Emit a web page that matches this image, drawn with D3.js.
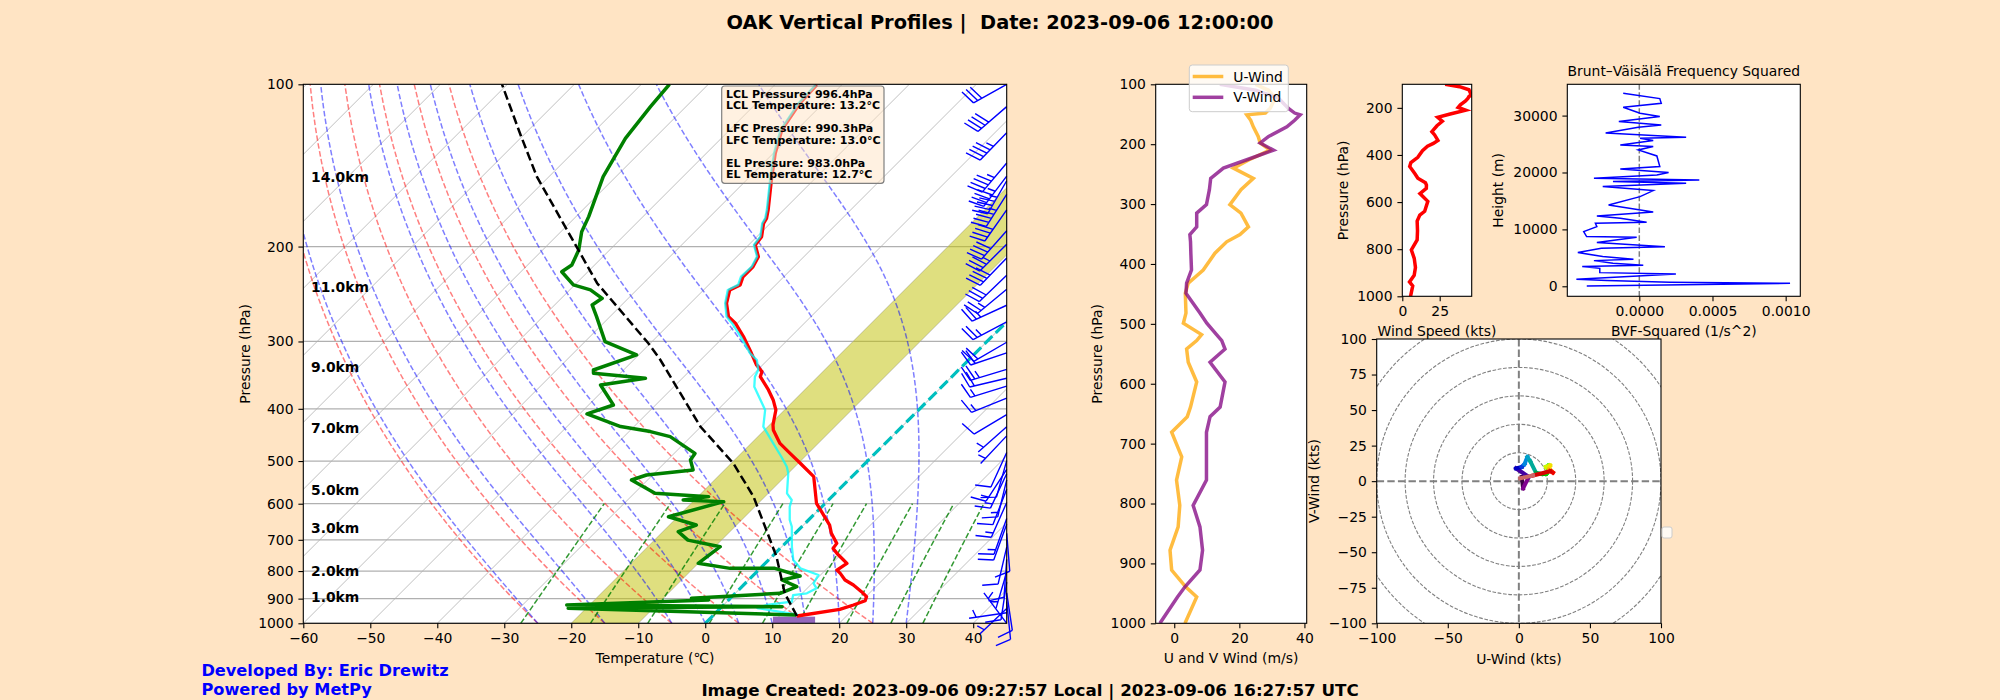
<!DOCTYPE html>
<html><head><meta charset="utf-8">
<script src="https://cdn.jsdelivr.net/npm/d3@7"></script>
<style>body{margin:0;background:#ffe4c4;} svg{display:block;font-family:'DejaVu Sans',sans-serif;}</style>
</head><body><svg id="c" width="2000" height="700"></svg>
<script>
// ================= DATA =================
const pTicks = [100,200,300,400,500,600,700,800,900,1000];
const tTicks = [-60,-50,-40,-30,-20,-10,0,10,20,30,40];

// Temperature (red)
const tempP = [969.3,942.1,924.8,908.0,892.4,873.6,849.0,831.1,807.8,796.4,774.0,763.2,743.9,726.1,710.7,680.9,657.2,620.8,599.0,534.4,504.8,483.9,463.7,437.8,428.5,402.0,385.1,369.0,348.7,341.3,331.7,315.6,293.8,277.5,269.8,254.8,240.7,235.6,227.5,218.0,208.8,198.7,191.7,181.1,177.3,171.1,150.5,134.3,121.6,116.5,108.5,100.3];
const tempT = [12.6,18.0,19.4,20.5,20.1,18.6,16.4,14.4,12.7,11.7,12.2,11.2,9.4,7.9,7.7,5.4,3.9,0.7,-1.3,-5.7,-9.7,-12.7,-15.7,-18.7,-19.5,-21.3,-23.2,-25.4,-28.6,-29.1,-30.9,-33.4,-37.1,-40.3,-42.3,-44.6,-46.1,-45.3,-46.1,-46.1,-46.8,-49.0,-49.3,-51.0,-51.3,-52.3,-56.3,-59.7,-62.2,-62.7,-63.5,-63.7];
// Cyan profile
const wetP = [963.8,947.5,936.7,924.8,911.9,886.2,879.9,861.3,843.1,813.6,790.8,763.2,720.9,661.9,643.3,607.6,590.5,573.9,526.9,512.2,490.9,463.7,431.5,402.0,363.9,348.7,338.9,324.7,315.6,293.8,277.5,269.8,254.8,240.7,235.6,227.5,218.0,208.8,198.7,191.7,181.1,177.3,171.1,150.5,134.3,121.6,116.5,108.5,100.3];
const wetT = [12.5,8.2,5.5,6.4,9.7,8.9,10.7,11.4,10.2,9.7,6.0,3.7,1.5,-1.5,-2.8,-4.8,-5.5,-7.2,-10.0,-11.2,-13.5,-16.7,-20.7,-22.9,-28.0,-29.4,-29.9,-31.6,-33.6,-37.5,-40.8,-42.6,-44.8,-46.4,-45.6,-46.4,-46.3,-47.0,-49.2,-49.5,-51.2,-51.5,-52.5,-56.5,-59.9,-62.4,-62.9,-63.7,-63.9];
// Dewpoint (green)
const dewP = [965.1,938,931.6,925,905,898.6,879.9,855.2,831.1,817.0,790.8,790.8,774.0,720.9,701.0,676.1,657.2,634.2,594.8,590.5,582.1,573.9,542.2,530.7,519.4,497.6,483.9,450.5,440.9,431.5,408.9,393.5,361.3,351.1,343.7,338.9,317.8,300.2,269.8,256.7,249.5,240.7,235.6,222.7,216.4,203.0,187.7,176.0,148.4,126.0,110.0,100];
const dewT = [12.3,-22.7,9.0,-23.4,-3.0,-5.8,6.7,8.2,5.0,7.1,2.2,-4.5,-10.0,-9.2,-15.0,-17.7,-16.0,-21.4,-15.4,-21.7,-18.4,-26.9,-32.4,-30.9,-24.7,-26.6,-26.9,-33.1,-36.8,-42.0,-48.9,-46.3,-51.2,-45.5,-54.0,-54.5,-50.3,-57.0,-62.0,-64.4,-63.9,-66.9,-70.2,-73.9,-73.4,-74.6,-76.9,-78.1,-81.9,-84.3,-85.3,-85.8];
// Parcel profile (black dashed)
const parcelP = [969.3,879.9,752.4,582.1,504.8,431.5,324.7,302.3,233.9,181.1,148.4,123.3,100.0];
const parcelT = [12.6,7.4,0.7,-11.7,-19.7,-30.1,-46.0,-50.3,-66.9,-80.9,-91.8,-100.8,-110.8];
// Background line sets
const dryT0 = [-25,-15,-5,5,15,25];
const moistT0 = [-25,-15,-5,0,5,10,15,20,25,30];
const mixW = [0.0004,0.001,0.002,0.004,0.007,0.01,0.016,0.024,0.032];
const bandT = [-20,-10];
const sfcBarT = [10.1,16.4];
const sfcBarP = [1000,972];
const kmLabels = ["1.0km","2.0km","3.0km","5.0km","7.0km","9.0km","11.0km","14.0km"];
const kmP = [892.6,799.6,666.5,565.9,434.6,334.2,237.4,148.8];
const infoLines = ["LCL Pressure: 996.4hPa","LCL Temperature: 13.2°C","","LFC Pressure: 990.3hPa","LFC Temperature: 13.0°C","","EL Pressure: 983.0hPa","EL Temperature: 12.7°C"];
// Winds (kts)
const windP = [100,110,123,140,148,151,160,171,187,198,210,226,240,257,276,301,315,338,351,363,382,410,432,449,482,499,518,528,542,564,597,639,655,681,722,761,803,839,878,911,939,956,1000];
const windU = [25,29,31,29.5,28,22.3,23.5,24.3,25.8,26.4,29.4,23,18.2,24.3,20.5,17.1,20.5,22.8,20.2,16.1,12.5,8.9,4.3,3.4,3.6,2.8,8.4,6.9,3.8,4.3,6.9,5.0,4.0,-0.8,2.3,0.7,1.7,1.2,-1.3,-0.8,3.5,6.9,3.3];
const windV = [14,25,32,35,37,38.7,37,34.6,29,26.4,30.5,22.3,15.1,11.2,10.8,9.9,6.9,6.9,4.8,5,5.1,5.3,3.8,3.6,7.9,10,13,14.6,15.6,11,15.6,14.1,11,9.9,9.9,9.9,5.8,7.9,8.7,7.9,3.3,1.0,-4.4];
// Brunt-Vaisala
const bvfH = [59,527,703,996,1230,2170,2400,3160,3460,3690,4040,4510,4750,5220,5920,6680,6970,7680,8610,8730,9610,10490,11080,11250,11950,12360,13070,14300,15760,16820,17520,18110,18400,18690,18990,19570,19980,20630,21040,22910,23970,24550,24850,25610,26020,26190,26960,27950,28360,28950,29830,30410,31470,32170,32990,33930];
const bvfN = [-3.59e-4,1.03e-3,2.1e-4,-2.2e-4,-4.3e-4,2.5e-4,-2.7e-4,-2.7e-4,-3.9e-4,2.7e-5,-1.8e-4,-3.1e-4,-4e-5,-2.5e-4,-4.2e-4,-2.6e-4,1.75e-4,-2.9e-4,-1.8e-5,-3.6e-4,-3.8e-4,-2.9e-4,-3.0e-4,5e-5,-1.3e-4,-2.9e-4,9.5e-5,-2.1e-4,5e-6,9.5e-5,-2.5e-4,3.2e-4,-1.8e-4,4.1e-4,-3.1e-4,1.2e-4,2.0e-4,-1.3e-4,1.4e-4,1.2e-4,-7e-6,9.5e-5,-1.3e-4,9.5e-5,5e-6,3.2e-4,-2.3e-4,-7e-6,1.5e-4,-1.4e-4,1.4e-4,5e-6,-1.1e-4,1.5e-4,1.4e-4,-1.1e-4];
// Hodograph (kts)
const hodoU = [2,3,7,-2,2,4,6,8,12,16,19,20,21,19,22,21,23,24,22,10,1];
const hodoV = [3,-5,3,9,10,12,17,14,6,5,5,6,11,10,11,8,7,6,7,4,2];
const hodoRings = [20,40,60,80,100,120];

// ================= HELPERS =================
const svg = d3.select('#c');
const defs = svg.append('defs');
svg.append('rect').attr('width',2000).attr('height',700).attr('fill','#ffe4c4');
const FS = 13.9;
const fmt = d => (d<0?'\u2212':'') + Math.abs(d);
function clip(id,b){defs.append('clipPath').attr('id',id).append('rect').attr('x',b.l).attr('y',b.t).attr('width',b.r-b.l).attr('height',b.b-b.t);}
function bg(b){svg.append('rect').attr('x',b.l).attr('y',b.t).attr('width',b.r-b.l).attr('height',b.b-b.t).attr('fill','#fff');}
function spine(b){svg.append('rect').attr('x',b.l).attr('y',b.t).attr('width',b.r-b.l).attr('height',b.b-b.t).attr('fill','none').attr('stroke','#000').attr('stroke-width',1.1);}
function styleAxis(g){
  g.select('.domain').remove();
  g.attr('font-size',FS).attr('font-family','DejaVu Sans');
  g.selectAll('text').attr('fill','#000');
  g.selectAll('line').attr('stroke','#000').attr('stroke-width',1.1);
}
function axB(b,scale,vals,f){const g=svg.append('g').attr('transform',`translate(0,${b.b})`).call(d3.axisBottom(scale).tickValues(vals).tickFormat(f||fmt).tickSize(4.9).tickPadding(4.9));styleAxis(g);}
function axL(b,scale,vals,f){const g=svg.append('g').attr('transform',`translate(${b.l},0)`).call(d3.axisLeft(scale).tickValues(vals).tickFormat(f||fmt).tickSize(4.9).tickPadding(4.9));styleAxis(g);}
function text(x,y,s,o={}){const t=svg.append('text').attr('x',x).attr('y',y).text(s).attr('font-size',o.size||FS).attr('text-anchor',o.anchor||'middle').attr('dominant-baseline','central').attr('fill',o.fill||'#000');
  if(o.bold)t.attr('font-weight','bold'); if(o.rot)t.attr('transform',`rotate(-90,${x},${y})`); return t;}

// ================= SKEW-T =================
const sk={l:303.3,r:1006.7,t:84.3,b:623.3};
const xs=d3.scaleLinear().domain([-60,45]).range([sk.l,sk.r]);
const ys=d3.scaleLog().domain([1000,100]).range([sk.b,sk.t]);
const SX=(T,p)=>xs(T)+(sk.b-ys(p));
const skLine=d3.line().x(d=>SX(d[1],d[0])).y(d=>ys(d[0]));
bg(sk); clip('cSkew',sk);
const gs=svg.append('g').attr('clip-path','url(#cSkew)');
for(let T=-140;T<=40;T+=10) gs.append('path').attr('d',skLine([[1000,T],[100,T]])).attr('stroke','#b0b0b0').attr('stroke-width',0.8).attr('fill','none');
pTicks.forEach(p=>gs.append('line').attr('x1',sk.l).attr('x2',sk.r).attr('y1',ys(p)).attr('y2',ys(p)).attr('stroke','#b0b0b0').attr('stroke-width',1.2));
gs.append('path').attr('d',skLine([[1000,bandT[0]],[1000,bandT[1]],[100,bandT[1]],[100,bandT[0]]])+'Z').attr('fill','#bfbf00').attr('fill-opacity',0.5);
const presRange=d3.range(1000,99,-10);
dryT0.forEach(t0=>{const th=t0+273.15;const pts=presRange.map(p=>[p,th*Math.pow(p/1000,0.2857)-273.15]);
  gs.append('path').attr('d',skLine(pts)).attr('fill','none').attr('stroke','red').attr('stroke-opacity',0.5).attr('stroke-width',1.5).attr('stroke-dasharray','5.55 2.4');});
function satMix(p,TK){const Tc=TK-273.15;const e=6.112*Math.exp(17.67*Tc/(Tc+243.5));return 0.622*e/(p-e);}
function dTdp(p,TK){const Rd=287.04749,Cp=1004.6662,Lv=2.501e6,eps=0.622;const rs=satMix(p,TK);return (Rd*TK+Lv*rs)/(p*(Cp+(Lv*Lv*rs*eps)/(Rd*TK*TK)));}
function moist(t0){let T=t0+273.15,p=1000;const pts=[[p,t0]];const dp=-5;
  while(p>100){const k1=dTdp(p,T),k2=dTdp(p+dp/2,T+dp/2*k1),k3=dTdp(p+dp/2,T+dp/2*k2),k4=dTdp(p+dp,T+dp*k3);T+=dp/6*(k1+2*k2+2*k3+k4);p+=dp;pts.push([p,T-273.15]);}
  return pts;}
moistT0.forEach(t0=>gs.append('path').attr('d',skLine(moist(t0))).attr('fill','none').attr('stroke','blue').attr('stroke-opacity',0.5).attr('stroke-width',1.5).attr('stroke-dasharray','5.55 2.4'));
mixW.forEach(w=>{const pts=d3.range(1000,599,-10).map(p=>{const e=p*w/(0.622+w);const L=Math.log(e/6.112);return [p,243.5*L/(17.67-L)];});
  gs.append('path').attr('d',skLine(pts)).attr('fill','none').attr('stroke','green').attr('stroke-opacity',0.8).attr('stroke-width',1.5).attr('stroke-dasharray','5.55 2.4');});
gs.append('path').attr('d',skLine([[1000,0],[100,0]])).attr('stroke','#00bfbf').attr('stroke-width',3.2).attr('stroke-dasharray','11 4.8').attr('fill','none');
gs.append('rect').attr('x',xs(sfcBarT[0])).attr('width',xs(sfcBarT[1])-xs(sfcBarT[0])).attr('y',ys(sfcBarP[1])).attr('height',ys(sfcBarP[0])-ys(sfcBarP[1])).attr('fill','#9467bd');
gs.append('path').attr('d',skLine(d3.zip(tempP,tempT))).attr('fill','none').attr('stroke','red').attr('stroke-width',3.3).attr('stroke-linejoin','round');
gs.append('path').attr('d',skLine(d3.zip(wetP,wetT))).attr('fill','none').attr('stroke','cyan').attr('stroke-opacity',0.75).attr('stroke-width',2.3).attr('stroke-linejoin','round');
gs.append('path').attr('d',skLine(d3.zip(dewP,dewT))).attr('fill','none').attr('stroke','green').attr('stroke-width',3.5).attr('stroke-linejoin','round');
gs.append('path').attr('d',skLine(d3.zip(parcelP,parcelT))).attr('fill','none').attr('stroke','#000').attr('stroke-width',2.5).attr('stroke-dasharray','9 4');
kmLabels.forEach((s,i)=>text(311,ys(kmP[i]),s,{anchor:'start',bold:true,size:13.9}));
const box=svg.append('g');
box.append('rect').attr('x',721.7).attr('y',86).attr('width',162.3).attr('height',97.3).attr('rx',3).attr('fill','#ffe4c4').attr('fill-opacity',0.5).attr('stroke','#808080').attr('stroke-width',1.2);
infoLines.forEach((s,i)=>{ if(s) text(726,94+i*11.55,s,{anchor:'start',bold:true,size:11}); });
const gb=svg.append('g').attr('stroke','blue').attr('stroke-width',1.4).attr('fill','none');
function barb(bx,by,u,v){
  const Lb=38, sp=0.125*Lb, h=0.4*Lb, w=0.25*Lb;
  const mag=Math.hypot(u,v); let m=5*Math.floor(mag/5+0.5);
  const nf=Math.floor(m/50); m-=nf*50; const nb=Math.floor(m/10); m-=nb*10; const half=m>=5;
  if(nf===0&&nb===0&&!half){gb.append('circle').attr('cx',bx).attr('cy',by).attr('r',0.15*Lb);return;}
  const dx=-u/mag, dy=v/mag, rx=-v/mag, ry=-u/mag;
  const P=(o,hh=0)=>[bx+dx*o+rx*hh, by+dy*o+ry*hh];
  let d=`M${bx},${by}L${P(Lb)}`; let off=Lb;
  for(let i=0;i<nf;i++){ if(off!==Lb) off+=sp/2; gb.append('path').attr('d',`M${P(off)}L${P(off-w/2,h)}L${P(off-w)}Z`).attr('fill','blue'); off-=w+sp; }
  for(let i=0;i<nb;i++){ d+=`M${P(off)}L${P(off+w/2,h)}`; off-=sp; }
  if(half){ if(off===Lb) off-=1.5*sp; d+=`M${P(off)}L${P(off+w/4,h/2)}`; }
  gb.append('path').attr('d',d);
}
windP.forEach((p,i)=>barb(sk.r,ys(p),windU[i],windV[i]));
spine(sk);
axB(sk,xs,tTicks); axL(sk,ys,pTicks,d3.format('d'));
text(655,658,'Temperature (\u2103)');
text(245,353.8,'Pressure (hPa)',{rot:true});

// ================= U/V PANEL =================
const uv={l:1155.7,r:1306.7,t:84.3,b:623.3};
const ux=d3.scaleLinear().domain([-5.7,40.7]).range([uv.l,uv.r]);
const uy=d3.scaleLinear().domain([100,1000]).range([uv.t,uv.b]);
bg(uv); clip('cUV',uv);
const gu=svg.append('g').attr('clip-path','url(#cUV)');
gu.append('path').attr('d',d3.line().x(d=>ux(d[1])).y(d=>uy(d[0]))(d3.zip(windP,windU))).attr('fill','none').attr('stroke','#ffa500').attr('stroke-opacity',0.75).attr('stroke-width',3.5);
gu.append('path').attr('d',d3.line().x(d=>ux(d[1])).y(d=>uy(d[0]))(d3.zip(windP,windV))).attr('fill','none').attr('stroke','#800080').attr('stroke-opacity',0.75).attr('stroke-width',3.5);
spine(uv);
axB(uv,ux,[0,20,40]); axL(uv,uy,pTicks,d3.format('d'));
text(1231,658,'U and V Wind (m/s)');
text(1097,353.8,'Pressure (hPa)',{rot:true});
svg.append('rect').attr('x',1189.3).attr('y',65).attr('width',99).attr('height',46.7).attr('rx',3).attr('fill','#fff').attr('fill-opacity',0.8).attr('stroke','#ccc');
svg.append('line').attr('x1',1192.7).attr('x2',1223.3).attr('y1',76.5).attr('y2',76.5).attr('stroke','#ffa500').attr('stroke-opacity',0.75).attr('stroke-width',3.5);
svg.append('line').attr('x1',1192.7).attr('x2',1223.3).attr('y1',97.3).attr('y2',97.3).attr('stroke','#800080').attr('stroke-opacity',0.75).attr('stroke-width',3.5);
text(1233.3,76.5,'U-Wind',{anchor:'start'}); text(1233.3,97.3,'V-Wind',{anchor:'start'});

// ================= SPEED PANEL =================
const sp={l:1402.3,r:1471.7,t:84.3,b:296.3};
const speed=windU.map((u,i)=>Math.hypot(u,windV[i]));
const sxs=d3.scaleLinear().domain([0,d3.max(speed)]).range([sp.l,sp.r]);
const sys=d3.scaleLinear().domain([100,1000]).range([sp.t,sp.b]);
bg(sp); clip('cSp',sp);
svg.append('g').attr('clip-path','url(#cSp)').append('path').attr('d',d3.line().x(d=>sxs(d[1])).y(d=>sys(d[0]))(d3.zip(windP,speed))).attr('fill','none').attr('stroke','red').attr('stroke-width',3.5);
spine(sp);
axB(sp,sxs,[0,25]); axL(sp,sys,[200,400,600,800,1000],d3.format('d'));
text(1437,330.7,'Wind Speed (kts)');
text(1342.7,190.3,'Pressure (hPa)',{rot:true});

// ================= BVF PANEL =================
const bv={l:1567.3,r:1800.3,t:84.3,b:296.3};
const bx=d3.scaleLinear().domain([-0.000492,0.0011]).range([bv.l,bv.r]);
const by=d3.scaleLinear().domain([-1760,35500]).range([bv.b,bv.t]);
bg(bv); clip('cBv',bv);
const gbv=svg.append('g').attr('clip-path','url(#cBv)');
gbv.append('line').attr('x1',bx(0)).attr('x2',bx(0)).attr('y1',bv.t).attr('y2',bv.b).attr('stroke','#808080').attr('stroke-width',1.5).attr('stroke-dasharray','5.55 2.4');
gbv.append('path').attr('d',d3.line().x(d=>bx(d[1])).y(d=>by(d[0]))(d3.zip(bvfH,bvfN))).attr('fill','none').attr('stroke','blue').attr('stroke-width',1.5);
spine(bv);
axB(bv,bx,[0,0.0005,0.001],d3.format('.4f')); axL(bv,by,[0,10000,20000,30000],d3.format('d'));
text(1683.8,330.7,'BVF-Squared (1/s^2)');
text(1683.8,70.7,'Brunt\u2013V\u00e4is\u00e4l\u00e4 Frequency Squared');
text(1498.3,190.3,'Height (m)',{rot:true});

// ================= HODOGRAPH =================
const hd={l:1376.7,r:1661,t:339,b:623.3};
const hx=d3.scaleLinear().domain([-100,100]).range([hd.l,hd.r]);
const hy=d3.scaleLinear().domain([-100,100]).range([hd.b,hd.t]);
bg(hd); clip('cHd',hd);
const gh=svg.append('g').attr('clip-path','url(#cHd)');
hodoRings.forEach(r=>gh.append('circle').attr('cx',hx(0)).attr('cy',hy(0)).attr('r',hx(r)-hx(0)).attr('fill','none').attr('stroke','#808080').attr('stroke-width',1.1).attr('stroke-dasharray','3.7 1.6'));
gh.append('line').attr('x1',hd.l).attr('x2',hd.r).attr('y1',hy(0)).attr('y2',hy(0)).attr('stroke','#808080').attr('stroke-width',2).attr('stroke-dasharray','7.4 3.2');
gh.append('line').attr('y1',hd.t).attr('y2',hd.b).attr('x1',hx(0)).attr('x2',hx(0)).attr('stroke','#808080').attr('stroke-width',2).attr('stroke-dasharray','7.4 3.2');
const nsStops=[[0,0,0],[.4667,0,.5333],[.5333,0,.6],[0,0,.6667],[0,0,.8667],[0,.4667,.8667],[0,.6,.8667],[0,.6667,.6667],[0,.6667,.5333],[0,.6,0],[0,.7333,0],[0,.8667,0],[0,1,0],[.7333,1,0],[.9333,.9333,0],[1,.8,0],[1,.6,0],[1,0,0],[.8667,0,0],[.8,0,0],[.8,.8,.8]];
function nipy(t){const f=t*20;const i=Math.min(19,Math.floor(f));const a=f-i;const c0=nsStops[i],c1=nsStops[i+1];return `rgb(${c0.map((c,k)=>Math.round(255*(c+(c1[k]-c)*a))).join(',')})`;}
for(let i=0;i<hodoU.length-1;i++){
  gh.append('line').attr('x1',hx(hodoU[i])).attr('y1',hy(hodoV[i])).attr('x2',hx(hodoU[i+1])).attr('y2',hy(hodoV[i+1])).attr('stroke',nipy((i+0.5)/(hodoU.length-1))).attr('stroke-width',4).attr('stroke-linecap','square');
}
spine(hd);
axB(hd,hx,[-100,-50,0,50,100]); axL(hd,hy,[-100,-75,-50,-25,0,25,50,75,100]);
text(1518.9,659,'U-Wind (kts)');
text(1314,481,'V-Wind (kts)',{rot:true});
svg.append('rect').attr('x',1662).attr('y',527).attr('width',10).attr('height',11).attr('rx',2).attr('fill','#fff').attr('fill-opacity',0.8).attr('stroke','#ccc');

// ================= TITLES =================
text(1000,22.7,'OAK Vertical Profiles |\u00a0 Date: 2023-09-06 12:00:00',{bold:true,size:19.4});
text(201.4,670.5,'Developed By: Eric Drewitz',{anchor:'start',bold:true,size:16.2,fill:'blue'});
text(201.4,689.5,'Powered by MetPy',{anchor:'start',bold:true,size:16.2,fill:'blue'});
text(701.4,689.5,'Image Created: 2023-09-06 09:27:57 Local | 2023-09-06 16:27:57 UTC',{anchor:'start',bold:true,size:16.7});
</script></body></html>
